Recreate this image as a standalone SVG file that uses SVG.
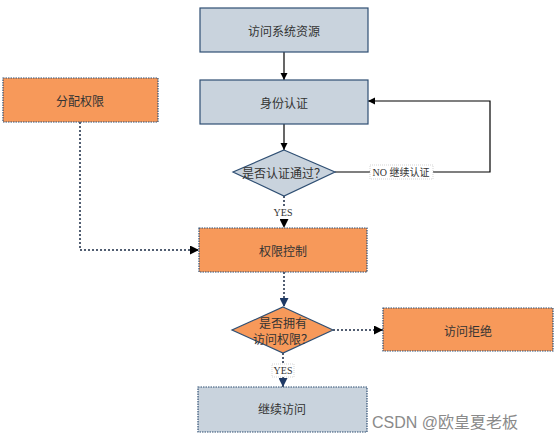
<svg xmlns="http://www.w3.org/2000/svg" width="558" height="442" viewBox="0 0 558 442">
<style>
.t{font-family:"Noto Sans CJK SC","Liberation Sans",sans-serif;font-size:12px;fill:#333;text-anchor:middle;dominant-baseline:central}
.blue{fill:#c9d3dd;stroke:#2f4f73;stroke-width:1.2}
.org{fill:#f7995a;stroke:#2f4f73;stroke-width:1.2}
.dash{stroke-dasharray:1.5 1}
.c{fill:none;stroke:#000;stroke-width:1.2}
.d{fill:none;stroke:#1a2a44;stroke-width:1.5;stroke-dasharray:2 2}
.lbl{font-family:"Liberation Serif","Noto Sans CJK SC",serif;font-size:10px;fill:#333;text-anchor:middle;dominant-baseline:central}
</style>
<defs>
<marker id="a" viewBox="0 0 10 10" refX="10" refY="5" markerWidth="6" markerHeight="6" orient="auto"><path d="M0,0 L10,5 L0,10 z" fill="#000"/></marker>
<marker id="ab" viewBox="0 0 10 10" refX="10" refY="5" markerWidth="6" markerHeight="6" orient="auto"><path d="M0,0 L10,5 L0,10 z" fill="#1f3a66"/></marker>
</defs>
<rect width="558" height="442" fill="#fff"/>
<g id="connectors">
<line class="c" x1="284" y1="52" x2="284" y2="80" marker-end="url(#a)"/>
<line class="c" x1="284" y1="124" x2="284" y2="150" marker-end="url(#a)"/>
<path class="d" d="M284,196 V228" marker-end="url(#a)"/>
<path class="c" d="M335,172 H490 V101 H368" marker-end="url(#a)"/>
<path class="d" d="M80,122 V250 H199" marker-end="url(#a)"/>
<path class="d" d="M284,272 V307" stroke="#1f3a66" marker-end="url(#ab)"/>
<path class="d" d="M333,330 H383" marker-end="url(#a)"/>
<path class="d" d="M283,353 V387" stroke="#1f3a66" marker-end="url(#ab)"/>
<rect x="270" y="206" width="28" height="13" fill="#fff"/>
<text class="lbl" x="283" y="212">YES</text>
<rect x="370" y="165" width="63" height="14" fill="#fff" stroke="#bbb" stroke-width="0.6" stroke-dasharray="1 1"/>
<text class="lbl" x="401" y="172" font-size="10.5">NO  继续认证</text>
<rect x="272" y="364" width="22" height="13" fill="#fff" stroke="#bbb" stroke-width="0.6" stroke-dasharray="1 1"/>
<text class="lbl" x="283" y="370" font-family="Liberation Sans,sans-serif" font-size="9.5">YES</text>
</g>
<g id="n1"><rect class="blue" x="200" y="8" width="168" height="44"/><text class="t" x="284" y="30">访问系统资源</text></g>
<g id="n2"><rect class="blue" x="200" y="80" width="168" height="44"/><text class="t" x="284" y="102">身份认证</text></g>
<g id="n3"><rect class="org dash" x="3" y="78" width="155" height="44"/><text class="t" x="80" y="100">分配权限</text></g>
<g id="n4"><polygon class="blue" points="284,150 335,172 284,196 233,172"/><text class="t" x="284" y="172">是否认证通过？</text></g>
<g id="n5"><rect class="org dash" x="199" y="228" width="168" height="44"/><text class="t" x="283" y="250">权限控制</text></g>
<g id="n6"><polygon class="org" points="283,307 333,330 283,353 232,330"/><text class="t" x="283" y="322">是否拥有</text><text class="t" x="283" y="338">访问权限？</text></g>
<g id="n7"><rect class="org dash" x="383" y="308" width="170" height="43"/><text class="t" x="468" y="330">访问拒绝</text></g>
<g id="n8"><rect class="blue dash" x="198" y="387" width="169" height="45"/><text class="t" x="282" y="408">继续访问</text></g>
<text x="372" y="428" font-family="Liberation Sans,'Noto Sans CJK SC',sans-serif" font-size="16" fill="#8a8a8a">CSDN @欧皇夏老板</text>
</svg>
